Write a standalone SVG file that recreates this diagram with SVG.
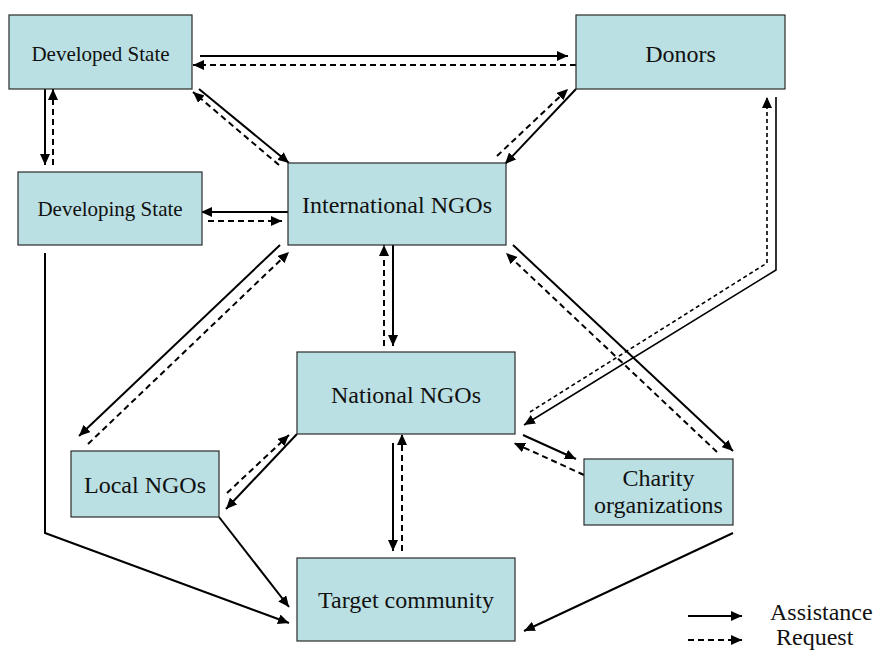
<svg xmlns="http://www.w3.org/2000/svg" width="875" height="650" viewBox="0 0 875 650">
<defs>
<marker id="ah" markerUnits="userSpaceOnUse" markerWidth="12" markerHeight="10" refX="11" refY="5" orient="auto">
<path d="M0,0 L11,5 L0,10 z" fill="#000"/>
</marker>
<style>
.box{fill:#bbe0e3;stroke:#2a2a2a;stroke-width:1.2}
.t{font-size:24px;fill:#111;text-anchor:middle}
.ts{font-size:21px}
.s{fill:none;stroke:#000;stroke-width:2}
.d{fill:none;stroke:#000;stroke-width:2;stroke-dasharray:6,4}
.df{fill:none;stroke:#000;stroke-width:1.6;stroke-dasharray:4,3}
.a{marker-end:url(#ah)}
</style>
</defs>
<rect width="875" height="650" fill="#fff"/>

<g id="connectors">
<line class="s a" x1="200" y1="56" x2="568" y2="56"/>
<line class="d a" x1="576" y1="65" x2="193" y2="65"/>
<line class="s a" x1="199" y1="89" x2="289" y2="163"/>
<line class="d a" x1="279" y1="165" x2="193" y2="92"/>
<line class="s a" x1="45" y1="89" x2="45" y2="165"/>
<line class="d a" x1="53" y1="165" x2="53" y2="89"/>
<line class="s a" x1="288" y1="212" x2="201" y2="212"/>
<line class="d a" x1="208" y1="221" x2="282" y2="221"/>
<line class="s a" x1="576" y1="89" x2="505" y2="164"/>
<line class="d a" x1="497" y1="156" x2="568" y2="89"/>
<polyline points="776,97 776,270 524,425" fill="none" stroke="#000" stroke-width="1.6" marker-end="url(#ah)"/>
<polyline class="df a" points="530,412 767,263 767,97"/>
<line class="s a" x1="393" y1="245" x2="393" y2="346"/>
<line class="d a" x1="384" y1="346" x2="384" y2="245"/>
<line class="s a" x1="280" y1="245" x2="79" y2="436"/>
<line class="d a" x1="88" y1="444" x2="289" y2="252"/>
<line class="s a" x1="513" y1="245" x2="733" y2="451"/>
<line class="d a" x1="717" y1="452" x2="506" y2="253"/>
<line class="s a" x1="297" y1="434" x2="226" y2="509"/>
<line class="d a" x1="227" y1="493" x2="289" y2="435"/>
<line class="s a" x1="523" y1="435" x2="576" y2="459"/>
<line class="d a" x1="584" y1="475" x2="514" y2="443"/>
<line class="s a" x1="393" y1="443" x2="393" y2="551"/>
<line class="d a" x1="402" y1="551" x2="402" y2="434"/>
<line class="s a" x1="219" y1="517" x2="289" y2="607"/>
<polyline class="s a" points="45,253 45,533 289,623" stroke-width="1.6"/>
<line class="s a" x1="733" y1="533" x2="524" y2="631"/>
<line class="s a" x1="688" y1="616" x2="742" y2="616"/>
<line class="d a" x1="688" y1="640" x2="742" y2="640"/>
</g>

<g font-family="'Liberation Serif', 'DejaVu Serif', 'Times New Roman', serif">
<g id="developed-state">
<rect class="box" x="9" y="15" width="183" height="74"/>
<text class="t ts" x="100.5" y="61">Developed State</text>
</g>
<g id="donors">
<rect class="box" x="576" y="15" width="209" height="74"/>
<text class="t" x="680.5" y="62">Donors</text>
</g>
<g id="developing-state">
<rect class="box" x="18" y="172" width="184" height="73"/>
<text class="t ts" x="110" y="216">Developing State</text>
</g>
<g id="international-ngos">
<rect class="box" x="288" y="163" width="218" height="82"/>
<text class="t" x="397" y="213">International NGOs</text>
</g>
<g id="national-ngos">
<rect class="box" x="297" y="352" width="218" height="82"/>
<text class="t" x="406" y="403">National NGOs</text>
</g>
<g id="local-ngos">
<rect class="box" x="71" y="451" width="148" height="66"/>
<text class="t" x="145" y="493">Local NGOs</text>
</g>
<g id="charity-organizations">
<rect class="box" x="584" y="459" width="149" height="66"/>
<text class="t" x="658.5" y="486">Charity</text>
<text class="t" x="658.5" y="513">organizations</text>
</g>
<g id="target-community">
<rect class="box" x="297" y="558" width="218" height="83"/>
<text class="t" x="406" y="608">Target community</text>
</g>
<g id="legend">
<text class="t" x="770" y="620" style="text-anchor:start">Assistance</text>
<text class="t" x="776" y="645" style="text-anchor:start">Request</text>
</g>
</g>
</svg>
